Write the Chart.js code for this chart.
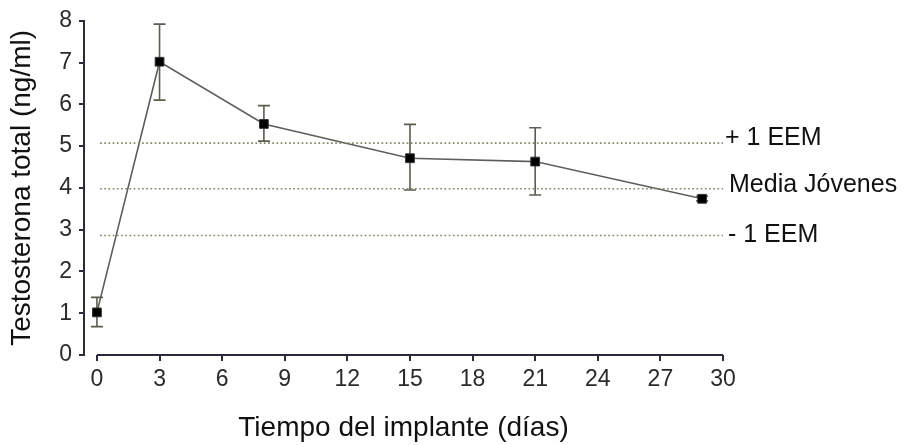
<!DOCTYPE html>
<html>
<head>
<meta charset="utf-8">
<script src="https://cdn.jsdelivr.net/npm/chart.js@4.4.0/dist/chart.umd.min.js"></script>
<style>
  html, body { margin: 0; padding: 0; background: #fff; }
  #wrap { width: 906px; height: 445px; }
</style>
</head>
<body>
<div id="wrap"><canvas id="chart" width="906" height="445"></canvas></div>
<script>
  // Datos
  const days = [0, 3, 8, 15, 21, 29];
  const testo = [1.02, 7.02, 5.53, 4.71, 4.63, 3.74];
  const errLow = [0.68, 6.1, 5.12, 3.95, 3.83, 3.69];
  const errHigh = [1.38, 7.92, 5.97, 5.52, 5.44, 3.80];
  const xTicks = [0, 3, 6, 9, 12, 15, 18, 21, 24, 27, 30];
  const yTicks = [0, 1, 2, 3, 4, 5, 6, 7, 8];
  const refLevels = [5.07, 3.98, 2.86];
  const refLabels = ['+ 1 EEM', 'Media Jóvenes', '- 1 EEM'];
  const refSpan = [0.15, 30];

  const FONT = "'Liberation Sans', Arial, sans-serif";

  // Barras de error, eje X separado y etiquetas de las líneas de referencia
  const extras = {
    id: 'extras',
    beforeDatasetsDraw(chart) {
      const { ctx, scales: { x, y } } = chart;
      ctx.save();
      ctx.strokeStyle = '#5c5c50';
      ctx.lineWidth = 1.6;
      days.forEach((d, i) => {
        const px = x.getPixelForValue(d);
        const lo = y.getPixelForValue(errLow[i]);
        const hi = y.getPixelForValue(errHigh[i]);
        ctx.beginPath();
        ctx.moveTo(px, lo); ctx.lineTo(px, hi);
        ctx.moveTo(px - 6, lo); ctx.lineTo(px + 6, lo);
        ctx.moveTo(px - 6, hi); ctx.lineTo(px + 6, hi);
        ctx.stroke();
      });
      ctx.restore();
    },
    afterDraw(chart) {
      const { ctx, chartArea, scales: { x, y } } = chart;
      ctx.save();
      // eje X (empieza en 0, separado del eje Y)
      ctx.strokeStyle = '#2b2b3b';
      ctx.lineWidth = 2;
      ctx.beginPath();
      ctx.moveTo(x.getPixelForValue(xTicks[0]), chartArea.bottom);
      ctx.lineTo(x.getPixelForValue(xTicks[xTicks.length - 1]), chartArea.bottom);
      ctx.stroke();
      // etiquetas a la derecha
      ctx.fillStyle = '#111';
      ctx.font = '25px ' + FONT;
      ctx.textAlign = 'left';
      ctx.textBaseline = 'middle';
      const dy = [-5, -4, 0];
      const dx = [2, 6, 5];
      refLevels.forEach((v, i) => {
        ctx.fillText(refLabels[i], chartArea.right + dx[i], y.getPixelForValue(v) + dy[i]);
      });
      ctx.restore();
    }
  };

  const refSets = refLevels.map(v => ({
    data: refSpan.map(d => ({ x: d, y: v })),
    borderColor: '#85856a',
    borderWidth: 1.7,
    borderDash: [1.7, 2.5],
    pointRadius: 0,
    fill: false
  }));

  new Chart(document.getElementById('chart'), {
    type: 'line',
    data: {
      datasets: [
        ...refSets,
        {
          data: days.map((d, i) => ({ x: d, y: testo[i] })),
          borderColor: '#5f5f5a',
          borderWidth: 1.6,
          pointStyle: 'rect',
          pointRadius: 6.2,
          pointBackgroundColor: '#000',
          pointBorderColor: '#333',
          pointBorderWidth: 1,
          tension: 0
        }
      ]
    },
    options: {
      responsive: false,
      animation: false,
      layout: { padding: { left: 0, right: 183, top: 19, bottom: 0 } },
      plugins: { legend: { display: false }, tooltip: { enabled: false } },
      scales: {
        x: {
          type: 'linear',
          min: -0.62,
          max: 30,
          afterBuildTicks: s => { s.ticks = xTicks.map(v => ({ value: v })); },
          afterFit: s => { s.height = 90; },
          border: { display: false },
          grid: { drawOnChartArea: false, drawTicks: true, tickLength: 6, color: '#2b2b3b', lineWidth: 2 },
          ticks: { font: { family: FONT, size: 23 }, color: '#2a2a2a', padding: 5, maxRotation: 0 },
          title: {
            display: true,
            text: 'Tiempo del implante (días)',
            font: { family: FONT, size: 28 },
            color: '#111',
            padding: { top: 0, bottom: 0 }
          }
        },
        y: {
          min: 0,
          max: 8,
          afterBuildTicks: s => { s.ticks = yTicks.map(v => ({ value: v })); },
          afterFit: s => { s.width = 84; },
          border: { display: true, color: '#2b2b3b', width: 2 },
          grid: { drawOnChartArea: false, drawTicks: true, tickLength: 5, color: '#2b2b3b', lineWidth: 2 },
          ticks: { font: { family: FONT, size: 23 }, color: '#2a2a2a', padding: 7 },
          title: {
            display: true,
            text: 'Testosterona total (ng/ml)',
            font: { family: FONT, size: 28 },
            color: '#111',
            padding: { top: 5, bottom: 0 }
          }
        }
      }
    },
    plugins: [extras]
  });
</script>
</body>
</html>
